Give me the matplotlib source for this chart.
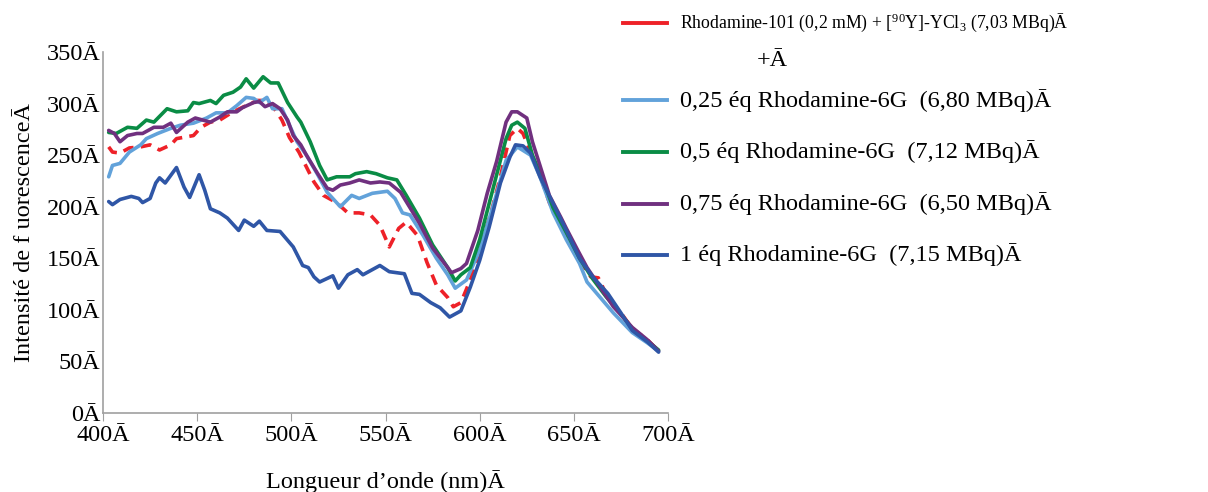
import matplotlib
matplotlib.use("Agg")
import matplotlib.pyplot as plt
from matplotlib.lines import Line2D

plt.rcParams['font.family'] = ['Liberation Serif', 'DejaVu Serif']
plt.rcParams['mathtext.fontset'] = 'custom'
plt.rcParams['mathtext.rm'] = 'Liberation Serif'

# --- data (wavelength nm, fluorescence intensity) ---
red_wl = [403, 405, 409, 414, 420, 425, 430, 436, 439, 445, 448, 452, 457, 462, 469, 476,
          482, 487, 491, 495, 499, 504, 512, 517, 524, 530, 536, 542, 547, 552, 557, 561,
          567, 572, 577, 583, 586, 590, 595, 600, 606, 611, 616, 620, 623, 627, 632, 637,
          646, 653, 659, 663, 668, 675, 681, 689, 695]
red_int = [258, 253, 252, 257, 258, 260, 255, 260, 266, 268, 269, 277, 282, 284, 292, 298,
           303, 303, 295, 284, 267, 253, 224, 211, 204, 194, 194, 192, 182, 161, 179, 185,
           172, 146, 124, 112, 103, 107, 129, 158, 194, 229, 269, 276, 271, 253, 231, 204,
           171, 148, 132, 131, 112, 97, 82, 71, 60]

lblue_wl = [403, 405, 409, 414, 420, 423, 429, 436, 441, 448, 455, 460, 466, 471, 476, 480,
            483, 487, 490, 495, 499, 503, 508, 514, 519, 526, 532, 536, 543, 551, 555, 559,
            563, 570, 577, 583, 587, 593, 600, 607, 614, 620, 627, 632, 639, 646, 653, 657,
            664, 671, 681, 689, 695]
lblue_int = [229, 240, 242, 253, 260, 266, 271, 276, 279, 281, 286, 291, 291, 298, 306, 305,
             301, 306, 295, 295, 279, 263, 250, 231, 214, 200, 211, 208, 213, 215, 208, 194,
             192, 172, 150, 134, 121, 129, 158, 200, 245, 258, 250, 229, 194, 168, 145, 127,
             112, 97, 78, 68, 60]

green_wl = [403, 407, 413, 418, 423, 427, 434, 439, 445, 448, 451, 457, 460, 464, 469, 473,
            476, 480, 485, 489, 493, 498, 503, 505, 510, 515, 519, 524, 531, 534, 540, 545,
            551, 556, 561, 568, 575, 583, 587, 590, 595, 600, 605, 608, 611, 614, 617, 620,
            624, 628, 634, 639, 646, 653, 660, 667, 674, 681, 689, 695]
green_int = [272, 271, 277, 276, 284, 282, 295, 292, 293, 301, 300, 303, 300, 308, 311, 316,
             324, 315, 326, 320, 320, 301, 287, 282, 263, 240, 226, 229, 229, 232, 234, 232,
             228, 226, 211, 189, 163, 141, 128, 134, 141, 168, 203, 224, 245, 266, 279, 282,
             276, 250, 224, 199, 175, 150, 130, 113, 98, 82, 70, 61]

purple_wl = [403, 406, 409, 413, 418, 421, 427, 432, 436, 439, 445, 449, 453, 457, 462, 466,
             471, 474, 480, 483, 486, 490, 494, 498, 501, 505, 508, 514, 519, 522, 526, 531,
             536, 542, 547, 552, 558, 563, 568, 575, 583, 585, 590, 593, 599, 604, 609, 614,
             617, 620, 625, 628, 632, 637, 643, 646, 652, 657, 664, 671, 681, 689, 695]
purple_int = [274, 271, 263, 269, 271, 271, 277, 277, 281, 272, 282, 286, 284, 282, 287, 292,
              292, 296, 301, 302, 297, 300, 295, 284, 269, 260, 250, 232, 218, 216, 221, 223,
              226, 223, 224, 223, 214, 199, 184, 160, 141, 136, 140, 145, 177, 213, 244, 282,
              292, 292, 286, 263, 240, 211, 190, 179, 158, 141, 122, 103, 83, 71, 60]

dblue_wl = [403, 405, 409, 415, 419, 421, 425, 428, 430, 433, 439, 443, 446, 451, 454, 457,
            462, 466, 472, 475, 480, 483, 487, 494, 501, 506, 509, 512, 515, 522, 525, 530,
            535, 538, 547, 552, 560, 564, 568, 574, 579, 584, 590, 595, 600, 605, 611, 616,
            619, 623, 627, 632, 639, 646, 653, 660, 668, 675, 681, 689, 695]
dblue_int = [205, 202, 207, 210, 208, 204, 208, 223, 228, 223, 238, 219, 209, 231, 216, 198,
             194, 189, 177, 187, 181, 186, 177, 176, 161, 143, 141, 132, 127, 133, 121, 134,
             139, 134, 143, 137, 135, 116, 115, 107, 102, 93, 99, 122, 148, 180, 223, 248,
             260, 259, 252, 229, 203, 177, 150, 132, 116, 97, 80, 69, 59]

labels = [r"Rhodamine-101 (0,2 mM) + [$\mathregular{^{90}}$Y]-YCl$\mathregular{_3}$ (7,03 MBq)Ā",
          "0,25 éq Rhodamine-6G  (6,80 MBq)Ā",
          "0,5 éq Rhodamine-6G  (7,12 MBq)Ā",
          "0,75 éq Rhodamine-6G  (6,50 MBq)Ā",
          "1 éq Rhodamine-6G  (7,15 MBq)Ā"]
colors = ['#EE2128', '#62A2DA', '#0A8C45', '#70307F', '#2F56A6']
xticks = [400, 450, 500, 550, 600, 650, 700]
yticks = [0, 50, 100, 150, 200, 250, 300, 350]

FS = 17.5

fig = plt.figure(figsize=(12.08, 4.92), dpi=100)
ax = fig.add_axes([0.0853, 0.1606, 0.4677, 0.7337])

series = [(red_wl, red_int), (lblue_wl, lblue_int), (green_wl, green_int),
          (purple_wl, purple_int), (dblue_wl, dblue_int)]
for i, (wl, val) in enumerate(series):
    ls = (0, (3.0, 2.0)) if i == 0 else '-'
    ax.plot(wl, val, color=colors[i], lw=2.6, linestyle=ls, solid_capstyle='round')

ax.set_xlim(400, 700)
ax.set_ylim(0, 350)
ax.set_xticks(xticks)
ax.set_xticklabels([f"{t}Ā" for t in xticks])
ax.set_yticks(yticks)
ax.set_yticklabels([f"{t}Ā" for t in yticks])
ax.tick_params(axis='x', length=6, color='#A0A0A0', labelsize=FS, pad=3)
ax.tick_params(axis='y', length=0, labelsize=FS, pad=2)
for s in ['top', 'right']:
    ax.spines[s].set_visible(False)
for s in ['left', 'bottom']:
    ax.spines[s].set_color('#A0A0A0')
    ax.spines[s].set_linewidth(1.2)

ax.set_xlabel("Longueur d’onde (nm)Ā", fontsize=FS, labelpad=17)
ax.set_ylabel("Intensité de f uorescenceĀ", fontsize=FS, labelpad=8)

# legend drawn at the right
leg_y = [0.9533, 0.7967, 0.6911, 0.5854, 0.4817]
for k, (lab, c, y) in enumerate(zip(labels, colors, leg_y)):
    fig.add_artist(Line2D([0.5157, 0.5522], [y, y], color=c, lw=2.8,
                          transform=fig.transFigure))
    fig.text(0.5629, y, lab, fontsize=12.8 if k == 0 else FS, va='center', ha='left')
fig.text(0.6267, 0.878, "+Ā", fontsize=FS, va='center', ha='left')

fig.savefig("out.png", dpi=100)
